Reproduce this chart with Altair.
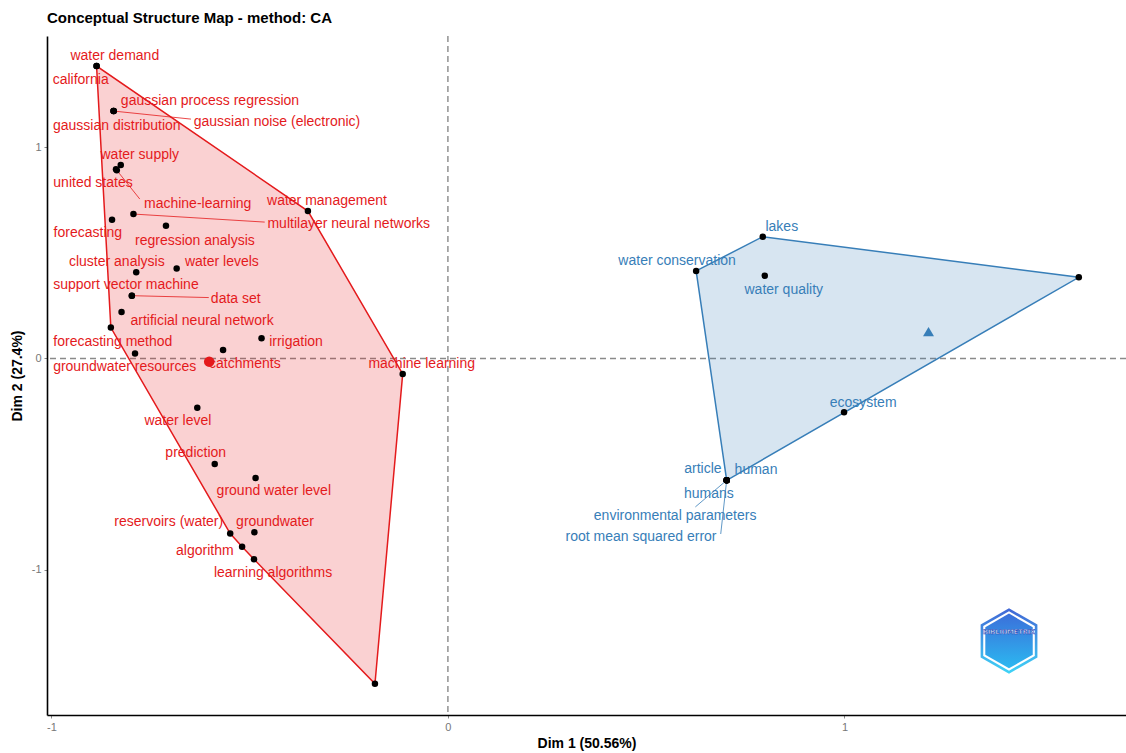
import altair as alt
import pandas as pd

# ---------------- data ----------------
red_terms = ["water demand", "california", "gaussian process regression", "gaussian distribution",
             "gaussian noise (electronic)", "water supply", "united states", "machine-learning",
             "forecasting", "multilayer neural networks", "regression analysis", "water management",
             "cluster analysis", "water levels", "support vector machine", "data set",
             "artificial neural network", "forecasting method", "irrigation", "catchments",
             "groundwater resources", "machine learning", "water level", "prediction",
             "ground water level", "reservoirs (water)", "groundwater", "algorithm",
             "learning algorithms", ""]
red_x = [-0.886, -0.886, -0.843, -0.843, -0.843, -0.825, -0.837, -0.835, -0.847, -0.793,
         -0.711, -0.353, -0.786, -0.684, -0.797, -0.797, -0.823, -0.850, -0.470, -0.567,
         -0.789, -0.114, -0.632, -0.588, -0.485, -0.549, -0.488, -0.519, -0.489, -0.184]
red_y = [1.383, 1.383, 1.170, 1.170, 1.170, 0.915, 0.895, 0.890, 0.656, 0.683,
         0.628, 0.697, 0.408, 0.426, 0.297, 0.297, 0.220, 0.146, 0.096, 0.040,
         0.023, -0.073, -0.233, -0.499, -0.565, -0.828, -0.822, -0.890, -0.949, -1.538]
red_label_x = [-0.840, -0.926, -0.600, -0.835, -0.431, -0.777, -0.895, -0.631, -0.908, -0.250,
               -0.638, -0.305, -0.835, -0.570, -0.812, -0.535, -0.620, -0.845, -0.383, -0.512,
               -0.815, -0.066, -0.681, -0.636, -0.439, -0.704, -0.436, -0.613, -0.441, -0.184]
red_label_y = [1.435, 1.322, 1.222, 1.104, 1.123, 0.967, 0.835, 0.735, 0.598, 0.641,
               0.560, 0.749, 0.461, 0.461, 0.352, 0.286, 0.182, 0.083, 0.083, -0.021,
               -0.035, -0.021, -0.291, -0.442, -0.622, -0.768, -0.768, -0.905, -1.009, -1.538]

blue_terms = ["lakes", "water conservation", "water quality", "", "ecosystem",
              "article", "human", "humans", "environmental parameters", "root mean squared error"]
blue_x = [0.794, 0.626, 0.799, 1.591, 0.999, 0.703, 0.703, 0.703, 0.703, 0.703]
blue_y = [0.576, 0.414, 0.391, 0.384, -0.254, -0.576, -0.576, -0.576, -0.576, -0.576]
blue_label_x = [0.842, 0.578, 0.847, 1.591, 1.047, 0.643, 0.777, 0.658, 0.573, 0.487]
blue_label_y = [0.626, 0.466, 0.329, 0.384, -0.206, -0.518, -0.522, -0.636, -0.740, -0.839]

# repel segments: term -> end of segment (data units)
leader_terms = ["gaussian noise (electronic)", "machine-learning", "multilayer neural networks",
                "data set", "environmental parameters", "root mean squared error"]
leader_end_x = [-0.648, -0.777, -0.462, -0.603, 0.624, 0.688]
leader_end_y = [1.132, 0.754, 0.645, 0.288, -0.702, -0.830]

centroid_cluster = ["1", "2"]
centroid_x = [-0.602, 1.212]
centroid_y = [-0.015, 0.127]

logo_x = [1.415]
logo_y = [-1.336]

x_domain = [-1.011, 1.710]
y_domain = [-1.686, 1.525]
axis_ticks = [-1, 0, 1]

RED = "#E41A1C"
BLUE = "#377EB8"
FONT = "Liberation Sans"

# ---------------- tables ----------------
rows = []
for t, x, y, lx, ly in zip(red_terms, red_x, red_y, red_label_x, red_label_y):
    rows.append(dict(term=t, x=x, y=y, lx=lx, ly=ly, cluster="1"))
for t, x, y, lx, ly in zip(blue_terms, blue_x, blue_y, blue_label_x, blue_label_y):
    rows.append(dict(term=t, x=x, y=y, lx=lx, ly=ly, cluster="2"))
pts = pd.DataFrame(rows)
labels = pts[pts.term != ""]

lead_rows = []
for t, ex, ey in zip(leader_terms, leader_end_x, leader_end_y):
    r = pts[pts.term == t].iloc[0]
    lead_rows.append(dict(term=t, x=r.x, y=r.y, x2=ex, y2=ey, cluster=r.cluster))
leaders = pd.DataFrame(lead_rows)


def convex_hull(points):
    points = sorted(set(points))
    if len(points) <= 2:
        return points

    def cross(o, a, b):
        return (a[0] - o[0]) * (b[1] - o[1]) - (a[1] - o[1]) * (b[0] - o[0])

    lower, upper = [], []
    for p in points:
        while len(lower) >= 2 and cross(lower[-2], lower[-1], p) <= 0:
            lower.pop()
        lower.append(p)
    for p in reversed(points):
        while len(upper) >= 2 and cross(upper[-2], upper[-1], p) <= 0:
            upper.pop()
        upper.append(p)
    return lower[:-1] + upper[:-1]


def hull_df(xs, ys):
    h = convex_hull(list(zip(xs, ys)))
    return pd.DataFrame({"x": [p[0] for p in h], "y": [p[1] for p in h], "order": list(range(len(h)))})


red_hull = hull_df(red_x, red_y)
blue_hull = hull_df(blue_x, blue_y)
cent = pd.DataFrame({"cluster": centroid_cluster, "x": centroid_x, "y": centroid_y})
logo = pd.DataFrame({"x": logo_x, "y": logo_y, "txt": ["BIBLIOMETRIX"]})

xs = alt.Scale(domain=x_domain, nice=False, zero=False)
ys = alt.Scale(domain=y_domain, nice=False, zero=False)
color = alt.Scale(domain=["1", "2"], range=[RED, BLUE])

X = alt.X("x:Q", scale=xs, axis=alt.Axis(values=axis_ticks, title="Dim 1 (50.56%)",
                                         labelExpr="'' + datum.value"))
Y = alt.Y("y:Q", scale=ys, axis=alt.Axis(values=axis_ticks, title="Dim 2 (27.4%)",
                                         labelExpr="'' + datum.value"))

zero_df = pd.DataFrame({"z": [0]})
vline = alt.Chart(zero_df).mark_rule(color="#8a8a8a", strokeDash=[6, 4], strokeWidth=1.4).encode(
    x=alt.X("z:Q", scale=xs))
hline = alt.Chart(zero_df).mark_rule(color="#8a8a8a", strokeDash=[6, 4], strokeWidth=1.4).encode(
    y=alt.Y("z:Q", scale=ys))

red_poly = alt.Chart(red_hull).mark_line(
    interpolate="linear-closed", fill=RED, fillOpacity=0.2, stroke=RED, strokeWidth=1.5
).encode(x=X, y=Y, order="order:Q")
blue_poly = alt.Chart(blue_hull).mark_line(
    interpolate="linear-closed", fill=BLUE, fillOpacity=0.2, stroke=BLUE, strokeWidth=1.5
).encode(x=X, y=Y, order="order:Q")

lead = alt.Chart(leaders).mark_rule(strokeWidth=0.8).encode(
    x=X, y=Y, x2="x2:Q", y2="y2:Q",
    color=alt.Color("cluster:N", scale=color, legend=None))

dots = alt.Chart(pts).mark_circle(size=42, color="black", opacity=1).encode(x=X, y=Y)

red_c = alt.Chart(cent[cent.cluster == "1"]).mark_point(
    shape="circle", filled=True, size=110, color=RED, opacity=1).encode(x=X, y=Y)
blue_c = alt.Chart(cent[cent.cluster == "2"]).mark_point(
    shape="triangle-up", filled=True, size=120, color=BLUE, opacity=1).encode(x=X, y=Y)

texts = alt.Chart(labels).mark_text(font=FONT, fontSize=14, align="center", baseline="middle", dy=1).encode(
    x=alt.X("lx:Q", scale=xs), y=alt.Y("ly:Q", scale=ys), text="term:N",
    color=alt.Color("cluster:N", scale=color, legend=None))

hexpath = "M0,-1 L0.866,-0.5 L0.866,0.5 L0,1 L-0.866,0.5 L-0.866,-0.5 Z"
grad_outer = alt.LinearGradient(gradient="linear", x1=0, y1=0, x2=0, y2=1,
                                stops=[alt.GradientStop(color="#4166D5", offset=0),
                                       alt.GradientStop(color="#3FD4F7", offset=1)])
grad_inner = alt.LinearGradient(gradient="linear", x1=0, y1=0, x2=0, y2=1,
                                stops=[alt.GradientStop(color="#3B6FDA", offset=0),
                                       alt.GradientStop(color="#2CB8F0", offset=1)])
logo1 = alt.Chart(logo).mark_point(shape=hexpath, filled=True, size=4300, color=grad_outer, opacity=1).encode(
    x=alt.X("x:Q", scale=xs), y=alt.Y("y:Q", scale=ys))
logo2 = alt.Chart(logo).mark_point(shape=hexpath, filled=True, size=3550, color="white", opacity=1).encode(
    x=alt.X("x:Q", scale=xs), y=alt.Y("y:Q", scale=ys))
logo3 = alt.Chart(logo).mark_point(shape=hexpath, filled=True, size=3000, color=grad_inner, opacity=1).encode(
    x=alt.X("x:Q", scale=xs), y=alt.Y("y:Q", scale=ys))
logo4 = alt.Chart(logo).mark_text(font="DejaVu Sans", fontSize=6.5, fontWeight="bold", fill="white",
                                  stroke="#2448b8", strokeWidth=0.5, dy=-9).encode(
    x=alt.X("x:Q", scale=xs), y=alt.Y("y:Q", scale=ys), text="txt:N")

chart = alt.layer(
    vline, hline, red_poly, blue_poly, lead, dots, red_c, blue_c, texts, logo1, logo2, logo3, logo4
).properties(
    width=1079, height=679,
    title=alt.TitleParams("Conceptual Structure Map - method: CA", anchor="start", frame="group",
                          fontSize=15, fontWeight="bold", font=FONT, color="black", offset=9),
    autosize=alt.AutoSizeParams(type="none"),
    padding={"left": 47, "top": 36, "right": 0, "bottom": 38},
).configure_view(stroke=None).configure_axis(
    grid=False, domainColor="black", domainWidth=1.6, tickColor="#8a8a8a", tickSize=3,
    labelColor="#777777", labelFontSize=11, labelFont=FONT, labelPadding=3,
    titleFont=FONT, titleFontSize=14, titleFontWeight="bold", titleColor="black"
).configure_axisX(titlePadding=4).configure_axisY(titlePadding=7)

chart.save("out.html", embed_options={"renderer": "svg", "actions": False})
